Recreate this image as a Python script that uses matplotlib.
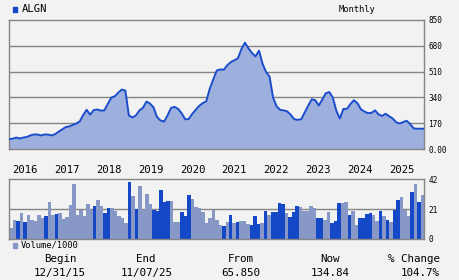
import pandas as pd
import matplotlib
matplotlib.use("Agg")
import matplotlib.pyplot as plt
from matplotlib.patches import Rectangle
import numpy as np

# monthly closes, Dec 2015 .. Oct 2025
price = [66, 70, 77, 71, 77, 81, 91, 97, 97, 91, 97, 97, 91, 99, 115, 130,
         145, 150, 159, 169, 182, 224, 259, 227, 257, 261, 254, 255, 297, 339,
         348, 372, 392, 385, 222, 209, 222, 255, 272, 313, 300, 275, 212, 189,
         182, 222, 272, 278, 265, 237, 197, 198, 232, 259, 285, 303, 315, 397,
         459, 517, 524, 522, 552, 572, 584, 597, 657, 699, 662, 632, 609, 647,
         562, 507, 477, 339, 282, 259, 255, 249, 227, 198, 193, 197, 242, 287,
         328, 322, 287, 327, 368, 375, 339, 252, 202, 265, 265, 297, 322, 302,
         262, 247, 237, 239, 255, 229, 219, 233, 217, 202, 177, 169, 179, 187,
         165, 137, 135, 135, 135]

# volume in thousands per month
volume = [8.0, 13.6, 12.9, 18.5, 12.0, 16.9, 13.6, 12.9, 16.9, 15.0, 16.2, 26.0,
          16.9, 17.8, 18.3, 14.3, 15.7, 23.9, 38.7, 16.9, 20.6, 16.2, 24.6, 20.6,
          23.2, 27.4, 23.2, 18.3, 21.8, 21.8, 19.9, 16.2, 14.8, 11.3, 40.1, 30.3,
          21.3, 37.3, 20.6, 31.7, 24.6, 20.6, 19.9, 34.5, 26.3, 26.7, 26.7, 12.0,
          12.0, 19.0, 16.2, 31.0, 28.2, 22.5, 21.8, 19.0, 11.3, 14.8, 20.4, 13.4,
          10.0, 9.2, 12.0, 16.9, 11.3, 12.0, 12.7, 12.7, 10.6, 9.9, 16.2, 10.6,
          11.3, 19.7, 16.9, 19.0, 19.0, 25.3, 24.6, 18.3, 15.5, 19.0, 23.2, 22.5,
          19.7, 19.7, 23.2, 21.8, 14.8, 14.8, 13.4, 19.0, 11.3, 12.7, 25.3, 25.3,
          26.0, 16.9, 19.7, 9.9, 14.8, 14.8, 17.6, 18.3, 16.9, 12.7, 19.7, 16.2,
          13.4, 12.0, 20.4, 27.4, 29.6, 20.4, 16.2, 33.1, 38.7, 26.0, 31.0]

# D = down month (dark bar), L = up month (light bar)
direction = list("LLDLDLLLLLDLLDLLLLLLLLLLDLLDDL"
                 "LLLLDLDLLLLDDDDDLLLDDDLLLLLLLL"
                 "LDLDLDLLLDDDLDLDDDDLDDDLLLLLDD"
                 "LLDDDLLDLLDDDDLLDLDLDDLLLDLDL")

price_ticks = [0, 170, 340, 510, 680, 850]
price_labels = ["0.00", "170", "340", "510", "680", "850"]
vol_ticks = [0, 21, 42]

headers = ["Begin", "End", "From", "Now", "% Change"]
values = ["12/31/15", "11/07/25", "65.850", "134.84", "104.7%"]

months = pd.date_range("2015-12-01", periods=len(volume), freq="MS")

W, H = 460, 280
BG = "#f2f2f2"
GRID = "#858585"
LINE = "#1a4ccc"
FILL = "#9db0dd"
DARK = "#1448c6"
LIGHT = "#8898c6"
FONT = "DejaVu Sans Mono"


def fx(px):
    return px / W


def fy(py):
    return 1 - py / H


fig = plt.figure(figsize=(4.6, 2.8), dpi=100, facecolor=BG)

left, right = 9.3, 424.3
ax = fig.add_axes([fx(left), fy(149.3), fx(right - left), (149.3 - 19.7) / H])
axv = fig.add_axes([fx(left), fy(239), fx(right - left), (239 - 179.3) / H])

x = np.arange(len(price))
for a in (ax, axv):
    a.set_facecolor(BG)
    a.set_axisbelow(True)
    for s in a.spines.values():
        s.set_color(GRID)
        s.set_linewidth(1.0)
    a.yaxis.tick_right()
    a.tick_params(axis="y", length=0, pad=3, labelsize=5.6, labelfontfamily=FONT)
    a.tick_params(axis="x", length=0, labelbottom=False)
    a.set_xticks([])

# price panel
ax.fill_between(x, price, 0, color=FILL, lw=0, zorder=2)
ax.plot(x, price, color=LINE, lw=1.4, zorder=3)
ax.set_xlim(0, len(price) - 1)
ax.set_ylim(0, 850)
ax.set_yticks(price_ticks)
ax.set_yticklabels(price_labels)
for v in price_ticks[1:-1]:
    ax.axhline(v, color=GRID, lw=1.0, zorder=1)

# volume panel
colors = [DARK if d == "D" else LIGHT for d in direction]
axv.bar(np.arange(len(volume)), volume, width=1.0, color=colors, lw=0, zorder=2)
axv.set_xlim(-0.5, len(volume) - 0.5)
axv.set_ylim(0, 42)
axv.set_yticks(vol_ticks)
axv.axhline(21, color=GRID, lw=1.0, zorder=1)

# year labels
for i, m in enumerate(months):
    if m.month == 1:
        axv.text(i - 0.6, 1.16, str(m.year), transform=axv.get_xaxis_transform(),
                 ha="left", va="center", fontsize=7.6, family=FONT)

# header
fig.add_artist(Rectangle((fx(12.7), fy(11.7)), fx(4.6), 5 / H, color=DARK,
                         transform=fig.transFigure))
fig.text(fx(22), fy(9), "ALGN", ha="left", va="center", fontsize=7.6, family=FONT)
fig.text(fx(357), fy(9), "Monthly", ha="center", va="center", fontsize=6.3, family=FONT)

# volume legend
fig.add_artist(Rectangle((fx(13.3), fy(247.7)), fx(4), 4.5 / H, color=LIGHT,
                         transform=fig.transFigure))
fig.text(fx(20.5), fy(245.3), "Volume/1000", ha="left", va="center", fontsize=6.3, family=FONT)

# summary table
head_x = [60, 146, 241, 330, 414]
val_x = [60, 147, 241, 330, 420]
for h, hx in zip(headers, head_x):
    fig.text(fx(hx), fy(259), h, ha="center", va="center", fontsize=7.8, family=FONT)
for v, vx in zip(values, val_x):
    fig.text(fx(vx), fy(273), v, ha="center", va="center", fontsize=7.8, family=FONT)

fig.savefig("out.png", dpi=100, facecolor=BG)
